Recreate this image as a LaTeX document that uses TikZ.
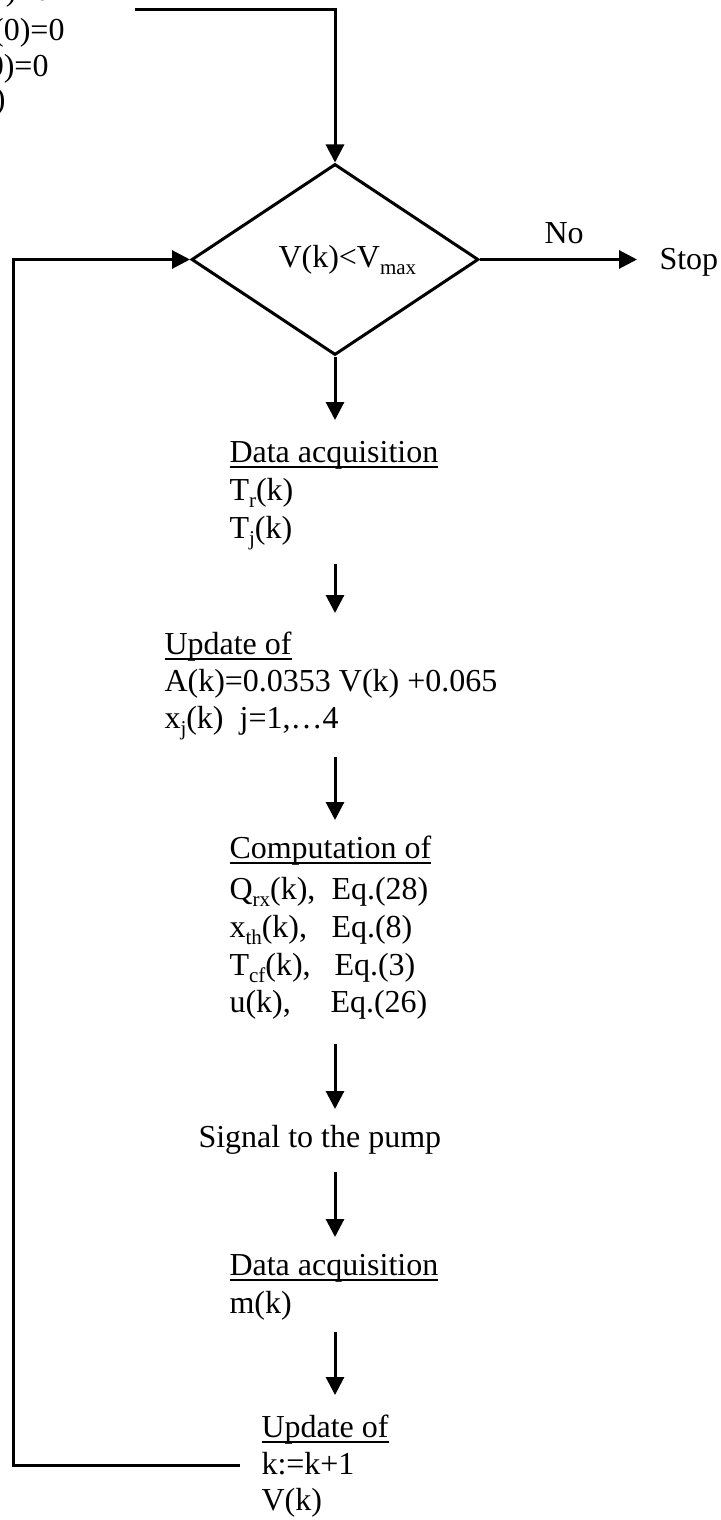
\documentclass[tikz,border=0pt]{standalone}
\usepackage{fontspec}
\setmainfont{Liberation Serif}
\usetikzlibrary{arrows.meta,shapes.geometric}
\newcommand\sbs[1]{\raisebox{-3.8pt}{\fontsize{10.5}{12}\selectfont #1}}
\newcommand\myul[1]{\setbox0=\hbox{#1}\rlap{\rule[-2.8pt]{\wd0}{1pt}}\box0}
\begin{document}
\begin{tikzpicture}[x=0.5pt,y=-0.5pt,line width=1.5pt,
  txt/.style={inner sep=0pt,anchor=base west,font=\fontsize{16}{18}\selectfont},
  txtr/.style={txt,anchor=base east},
  arr/.style={-{Triangle[length=9pt,width=9pt]}},
  decision/.style={draw,diamond,inner sep=0pt,minimum width=143.5pt,minimum height=95.5pt}]
\useasboundingbox (0,0) rectangle (720,1520);
\clip (0,0) rectangle (720,1520);

% cropped initialisation text (top left)
\node[txtr] (i1) at (52,0.5) {(0)=0};
\node[txtr] (i2) at (66,41) {(0)=0};
\node[txtr] (i3) at (50,77) {(0)=0};
\node[txtr] (i4) at (7,110) {(0)};

% decision
\node[decision] (dia) at (335,259.5) {};
\node[txt] (cond) at (277,267) {V(k)<V\sbs{max}};
\node[txt] (no) at (543,243) {No};
\node[txt] (stop) at (658,269) {Stop};

% blocks
\node[txt] (da1) at (228,462) {\myul{Data acquisition}};
\node[txt] (tr) at (228,500) {T\sbs{r}(k)};
\node[txt] (tj) at (228,538) {T\sbs{j}(k)};

\node[txt] (up1) at (163,654) {\myul{Update of}};
\node[txt] (ak) at (163,691) {A(k)=0.0353 V(k) +0.065};
\node[txt] (xj) at (163,728) {x\sbs{j}(k)\ \ j=1,…4};

\node[txt] (comp) at (228,858) {\myul{Computation of}};
\node[txt] (q1) at (228,899) {Q\sbs{rx}(k),};
\node[txt] (q2) at (330,899) {Eq.(28)};
\node[txt] (x1) at (228,937) {x\sbs{th}(k),};
\node[txt] (x2) at (330,937) {Eq.(8)};
\node[txt] (t1) at (228,975) {T\sbs{cf}(k),};
\node[txt] (t2) at (333,975) {Eq.(3)};
\node[txt] (u1) at (228,1012) {u(k),};
\node[txt] (u2) at (329,1012) {Eq.(26)};

\node[txt] (sig) at (197,1147) {Signal to the pump};

\node[txt] (da2) at (228,1275) {\myul{Data acquisition}};
\node[txt] (mk) at (228,1313) {m(k)};

\node[txt] (up2) at (260,1437) {\myul{Update of}};
\node[txt] (kk) at (260,1474) {k:=k+1};
\node[txt] (vk) at (260,1510) {V(k)};

% connector end points
\coordinate (topstart) at (135,10);
\coordinate (loopend) at (240,1465);
\coordinate (loopcorner) at (13,1465);
\coordinate (a1e) at (335,420);
\coordinate (a2s) at (335,564);  \coordinate (a2e) at (335,613);
\coordinate (a3s) at (335,757);  \coordinate (a3e) at (335,820);
\coordinate (a4s) at (335,1044); \coordinate (a4e) at (335,1109);
\coordinate (a5s) at (335,1172); \coordinate (a5e) at (335,1237);
\coordinate (a6s) at (335,1332); \coordinate (a6e) at (335,1395);
\coordinate (stoptip) at (637,259.5);

% connectors
\draw[arr] (topstart) -| (dia.north);
\draw[arr] (dia.east) -- (stoptip);
\draw[arr] (dia.south) -- (a1e);
\draw[arr] (a2s) -- (a2e);
\draw[arr] (a3s) -- (a3e);
\draw[arr] (a4s) -- (a4e);
\draw[arr] (a5s) -- (a5e);
\draw[arr] (a6s) -- (a6e);
\draw[arr] (loopend) -- (loopcorner) |- (dia.west);
\end{tikzpicture}
\end{document}
